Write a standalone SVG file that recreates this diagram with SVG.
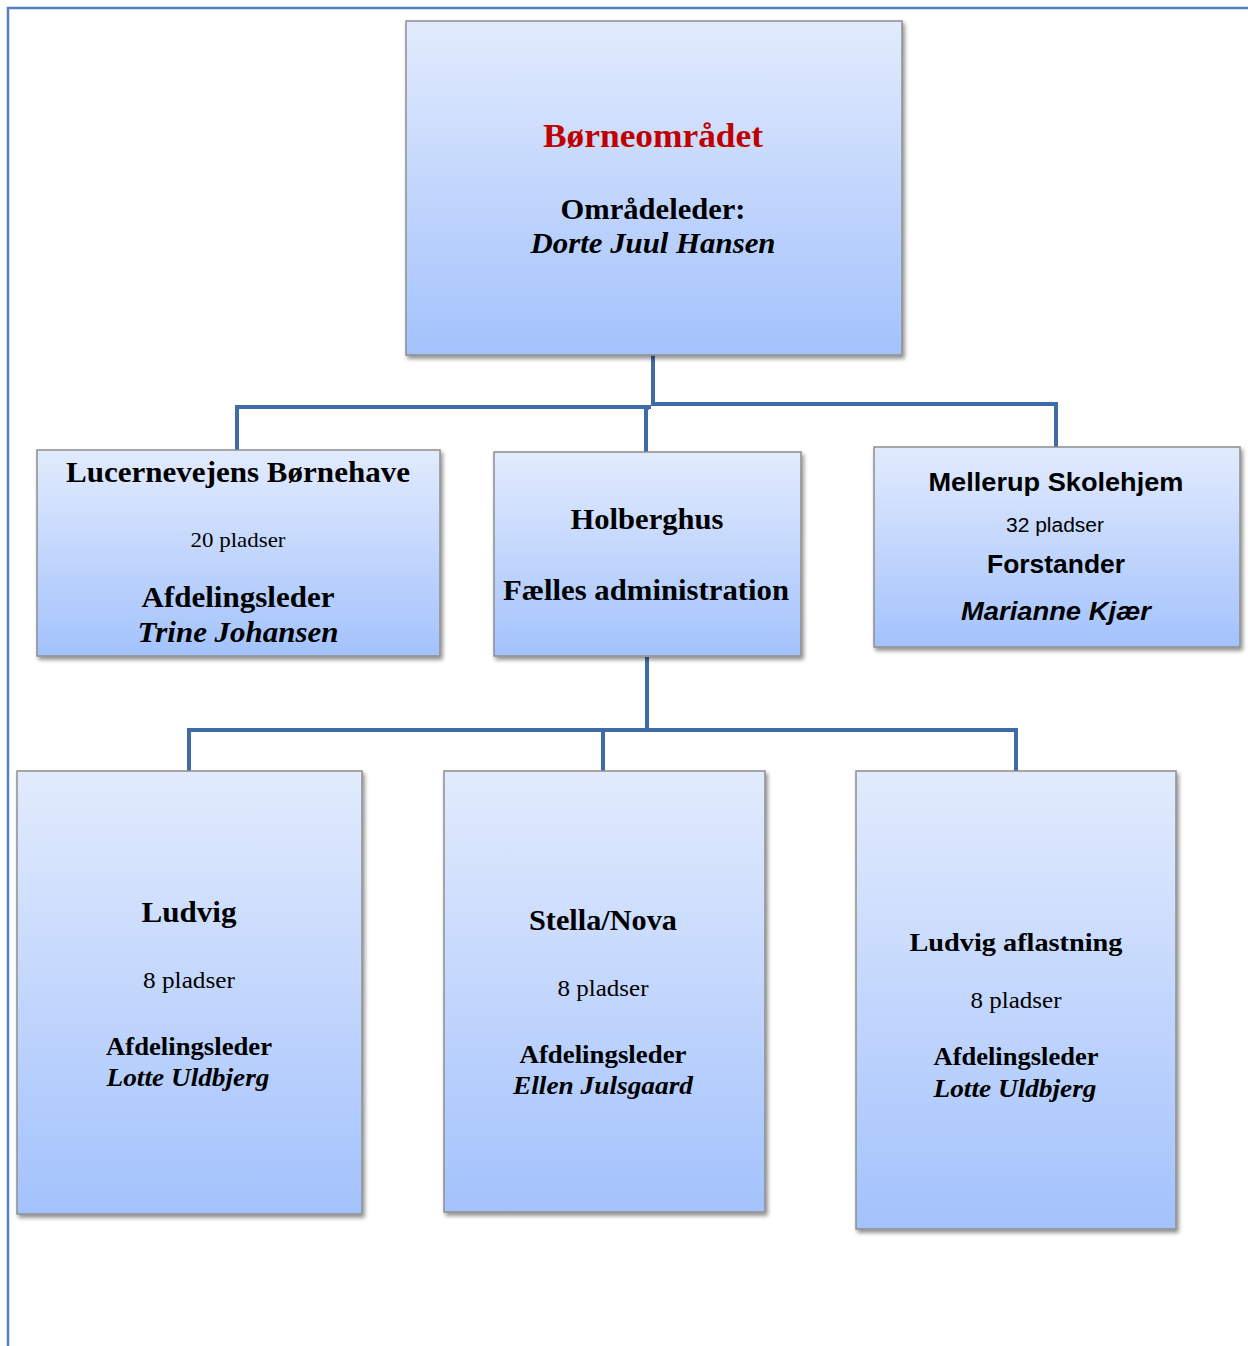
<svg xmlns="http://www.w3.org/2000/svg" width="1248" height="1346" viewBox="0 0 1248 1346">
<defs>
<linearGradient id="g" x1="0" y1="0" x2="0" y2="1">
<stop offset="0" stop-color="#e2ebfd"/>
<stop offset="1" stop-color="#a3c2fc"/>
</linearGradient>
<filter id="sh" x="-5%" y="-5%" width="112%" height="112%">
<feGaussianBlur in="SourceAlpha" stdDeviation="2"/>
<feOffset dx="2" dy="3" result="b"/>
<feComponentTransfer><feFuncA type="linear" slope="0.45"/></feComponentTransfer>
<feMerge><feMergeNode/><feMergeNode in="SourceGraphic"/></feMerge>
</filter>
</defs>
<style>
.box{fill:url(#g);stroke:#8e8e8e;stroke-width:1.5;filter:url(#sh)}
.c{fill:none;stroke:#3f6ca6;stroke-width:4}
text{text-anchor:middle;fill:#000}
.s{font-family:"Liberation Serif","Times New Roman",serif}
.a{font-family:"Liberation Sans",Arial,sans-serif}
.b{font-weight:bold}
.i{font-style:italic}
</style>
<rect width="1248" height="1346" fill="#ffffff"/>
<path d="M8 1346 V8 H1248" fill="none" stroke="#5583bf" stroke-width="2.5"/>

<g id="connectors">
<path class="c" d="M653 355 V406"/>
<path class="c" d="M237 450 V407 H651"/>
<path class="c" d="M653 404 H1056 V447"/>
<path class="c" d="M649 408 H646 V452" stroke="#4a7bbb"/>
<path class="c" d="M647 657 V730"/>
<path class="c" d="M189 771 V730 H1016 V771"/>
<path class="c" d="M603 730 V771"/>
</g>

<g id="node-top">
<rect class="box" x="406" y="21" width="496" height="334"/>
<text class="s b" x="653" y="147" font-size="34" style="fill:#c00000" textLength="220" lengthAdjust="spacingAndGlyphs">Børneområdet</text>
<text class="s b" x="653" y="219" font-size="29" textLength="185" lengthAdjust="spacingAndGlyphs">Områdeleder:</text>
<text class="s b i" x="653" y="253" font-size="29" textLength="245" lengthAdjust="spacingAndGlyphs">Dorte Juul Hansen</text>
</g>

<g id="node-lucerne">
<rect class="box" x="37" y="450" width="403" height="206"/>
<text class="s b" x="238" y="482" font-size="29" textLength="344" lengthAdjust="spacingAndGlyphs">Lucernevejens Børnehave</text>
<text class="s" x="238" y="547" font-size="21" textLength="95" lengthAdjust="spacingAndGlyphs">20 pladser</text>
<text class="s b" x="238" y="607" font-size="29" textLength="193" lengthAdjust="spacingAndGlyphs">Afdelingsleder</text>
<text class="s b i" x="238" y="642" font-size="29" textLength="201" lengthAdjust="spacingAndGlyphs">Trine Johansen</text>
</g>

<g id="node-holberghus">
<rect class="box" x="494" y="452" width="307" height="204"/>
<text class="s b" x="647" y="529" font-size="29" textLength="153" lengthAdjust="spacingAndGlyphs">Holberghus</text>
<text class="s b" x="646" y="600" font-size="29" textLength="286" lengthAdjust="spacingAndGlyphs">Fælles administration</text>
</g>

<g id="node-mellerup">
<rect class="box" x="874" y="447" width="366" height="200"/>
<text class="a b" x="1056" y="491" font-size="26" textLength="255" lengthAdjust="spacingAndGlyphs">Mellerup Skolehjem</text>
<text class="a" x="1055" y="532" font-size="20" textLength="98" lengthAdjust="spacingAndGlyphs">32 pladser</text>
<text class="a b" x="1056" y="573" font-size="26" textLength="138" lengthAdjust="spacingAndGlyphs">Forstander</text>
<text class="a b i" x="1056" y="620" font-size="26" textLength="190" lengthAdjust="spacingAndGlyphs">Marianne Kjær</text>
</g>

<g id="node-ludvig">
<rect class="box" x="17" y="771" width="345" height="443"/>
<text class="s b" x="189" y="922" font-size="30" textLength="95" lengthAdjust="spacingAndGlyphs">Ludvig</text>
<text class="s" x="189" y="988" font-size="24" textLength="92" lengthAdjust="spacingAndGlyphs">8 pladser</text>
<text class="s b" x="189" y="1055" font-size="26" textLength="166" lengthAdjust="spacingAndGlyphs">Afdelingsleder</text>
<text class="s b i" x="188" y="1086" font-size="26" textLength="163" lengthAdjust="spacingAndGlyphs">Lotte  Uldbjerg</text>
</g>

<g id="node-stella">
<rect class="box" x="444" y="771" width="321" height="441"/>
<text class="s b" x="603" y="930" font-size="29" textLength="148" lengthAdjust="spacingAndGlyphs">Stella/Nova</text>
<text class="s" x="603" y="996" font-size="24" textLength="91" lengthAdjust="spacingAndGlyphs">8 pladser</text>
<text class="s b" x="603" y="1063" font-size="26" textLength="167" lengthAdjust="spacingAndGlyphs">Afdelingsleder</text>
<text class="s b i" x="603" y="1094" font-size="26" textLength="180" lengthAdjust="spacingAndGlyphs">Ellen Julsgaard</text>
</g>

<g id="node-aflastning">
<rect class="box" x="856" y="771" width="320" height="458"/>
<text class="s b" x="1016" y="951" font-size="26" textLength="213" lengthAdjust="spacingAndGlyphs">Ludvig aflastning</text>
<text class="s" x="1016" y="1008" font-size="24" textLength="91" lengthAdjust="spacingAndGlyphs">8 pladser</text>
<text class="s b" x="1016" y="1065" font-size="26" textLength="165" lengthAdjust="spacingAndGlyphs">Afdelingsleder</text>
<text class="s b i" x="1015" y="1097" font-size="26" textLength="163" lengthAdjust="spacingAndGlyphs">Lotte  Uldbjerg</text>
</g>
</svg>
